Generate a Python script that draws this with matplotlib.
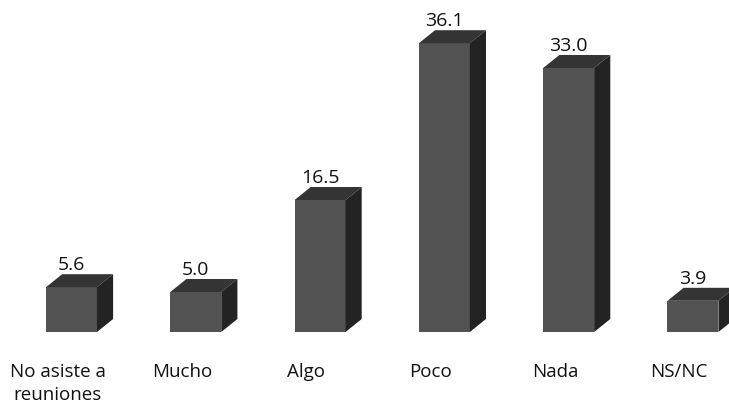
import matplotlib
matplotlib.use("Agg")
import matplotlib.pyplot as plt
from matplotlib.patches import Polygon, Rectangle

categories = ["No asiste a\nreuniones", "Mucho", "Algo", "Poco", "Nada", "NS/NC"]
values = [5.6, 5.0, 16.5, 36.1, 33.0, 3.9]

plt.rcParams["font.family"] = ["Open Sans", "DejaVu Sans"]

fig = plt.figure(figsize=(7.29, 4.05), dpi=100)
ax = fig.add_axes([0, 0, 1, 1])
ax.set_xlim(-0.575, 5.29)
ax.set_ylim(-9.125, 41.5)
ax.axis("off")

front_c = "#525252"
top_c = "#343434"
side_c = "#232323"

w = 0.41      # bar width in category units
dx = 0.13     # depth offset, horizontal
dy = 1.625    # depth offset, vertical (value units)
line_gap = 2.875  # spacing between label lines (value units)

for i, (cat, v) in enumerate(zip(categories, values)):
    x0, x1 = i - w / 2, i + w / 2
    ax.add_patch(Rectangle((x0, 0), w, v, facecolor=front_c, edgecolor="none"))
    ax.add_patch(Polygon([(x0, v), (x1, v), (x1 + dx, v + dy), (x0 + dx, v + dy)],
                         closed=True, facecolor=top_c, edgecolor="none"))
    ax.add_patch(Polygon([(x1, 0), (x1 + dx, dy), (x1 + dx, v + dy), (x1, v)],
                         closed=True, facecolor=side_c, edgecolor="none"))
    ax.text(i, v + dy + 0.5, f"{v:.1f}", ha="center", va="baseline",
            fontsize=14, color="#111111")
    for k, line in enumerate(cat.split("\n")):
        ax.text(i - 0.11, -5.6 - k * line_gap, line, ha="center", va="baseline",
                fontsize=13.5, color="#111111")

fig.savefig("out.png", dpi=100, facecolor="white")
